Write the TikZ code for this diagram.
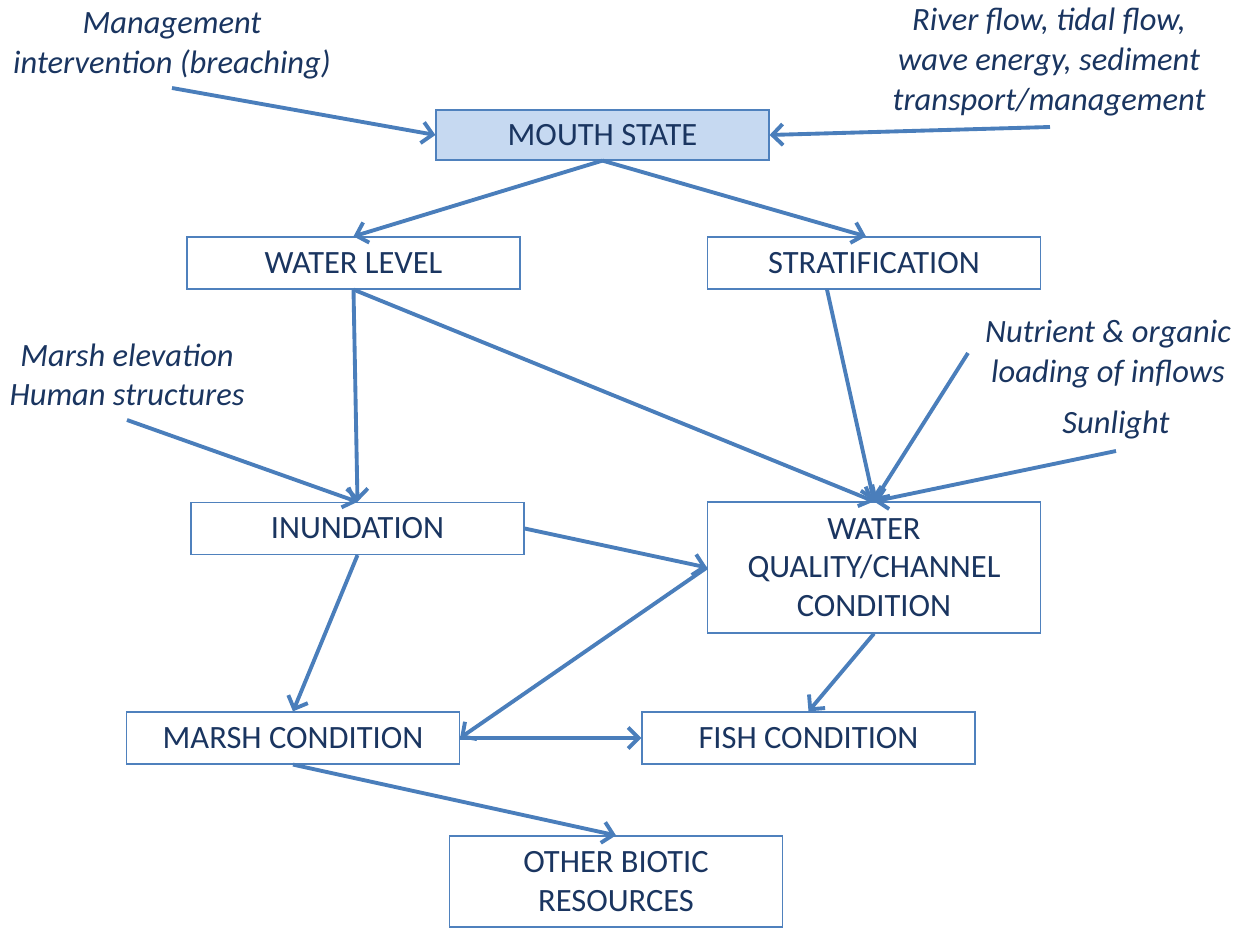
\documentclass[tikz,border=0pt]{standalone}
\usepackage{fontspec}
\setmainfont{Carlito}
\usetikzlibrary{shapes,arrows.meta,positioning,calc}
\definecolor{ink}{HTML}{1A3560}
\definecolor{edge}{HTML}{4F81BD}
\definecolor{flow}{HTML}{4A7EBB}
\definecolor{shade}{HTML}{C6D9F1}
\tikzstyle{state} = [draw=edge,line width=0.7pt,rectangle,inner sep=0,minimum width=6.66cm,minimum height=1.04cm,fill=white,text=ink,font=\fontsize{18.5}{22}\selectfont,align=center]
\tikzstyle{driver} = [text=ink,font=\fontsize{18.5}{22.5}\selectfont\itshape,align=center,inner sep=0]
\tikzstyle{link} = [-{Straight Barb[length=6pt,width=12pt]},line width=2.2pt,draw=flow]
\def \px {0.02cm}

\begin{document}
\begin{tikzpicture}[x=\px,y=-\px]
      \useasboundingbox (0,0) rectangle (1245,928);
      % boxes
      \node[state,fill=shade,minimum height=1.0cm] (mouth) at (602.5,135) {MOUTH STATE};
      \node[state] (level) at (353.5,263) {WATER LEVEL};
      \node[state] (strat) at (874,263) {STRATIFICATION};
      \node[state] (inund) at (357.5,528.5) {INUNDATION};
      \node[state,minimum height=2.62cm] (quality) at (874,567.5) {WATER\\QUALITY/CHANNEL\\CONDITION};
      \node[state] (marsh) at (293,738) {MARSH CONDITION};
      \node[state] (fish) at (808.5,738) {FISH CONDITION};
      \node[state,minimum height=1.82cm] (biotic) at (616,881.5) {OTHER BIOTIC\\RESOURCES};
      % drivers
      \node[driver] (breach) at (172,46) {Management\\intervention (breaching)};
      \node[driver] (river) at (1049,62) {River flow, tidal flow,\\wave energy, sediment\\transport/management};
      \node[driver] (elev) at (127,375) {Marsh elevation\\Human structures};
      \node[driver] (nutri) at (1108,354) {Nutrient \& organic\\loading of inflows};
      \node[driver] (sun) at (1116,425) {Sunlight};
      \coordinate (breachend) at (172,88);
      \coordinate (riverend) at (1050,127);
      \coordinate (elevend) at (127,420);
      \coordinate (nutriend) at (968,353);
      \coordinate (sunend) at (1116,451);
      % links
      \draw[link] (breachend) -- (mouth.west);
      \draw[link] (riverend) -- (mouth.east);
      \draw[link] (mouth.south) -- (level.north);
      \draw[link] (mouth.south) -- ($(strat.north)+(-8,0)$);
      \draw[link] (level.south) -- (inund.north);
      \draw[link] (level.south) -- (quality.north);
      \draw[link] ($(strat.south)+(-47,0)$) -- (quality.north);
      \draw[link] (nutriend) -- (quality.north);
      \draw[link] (sunend) -- (quality.north);
      \draw[link] (elevend) -- (inund.north);
      \draw[link] (inund.east) -- (quality.west);
      \draw[link] (inund.south) -- (marsh.north);
      \draw[link] (quality.west) -- (marsh.east);
      \draw[link] (marsh.east) -- (fish.west);
      \draw[link] (quality.south) -- (fish.north);
      \draw[link] (marsh.south) -- (biotic.north);
\end{tikzpicture}
\end{document}
